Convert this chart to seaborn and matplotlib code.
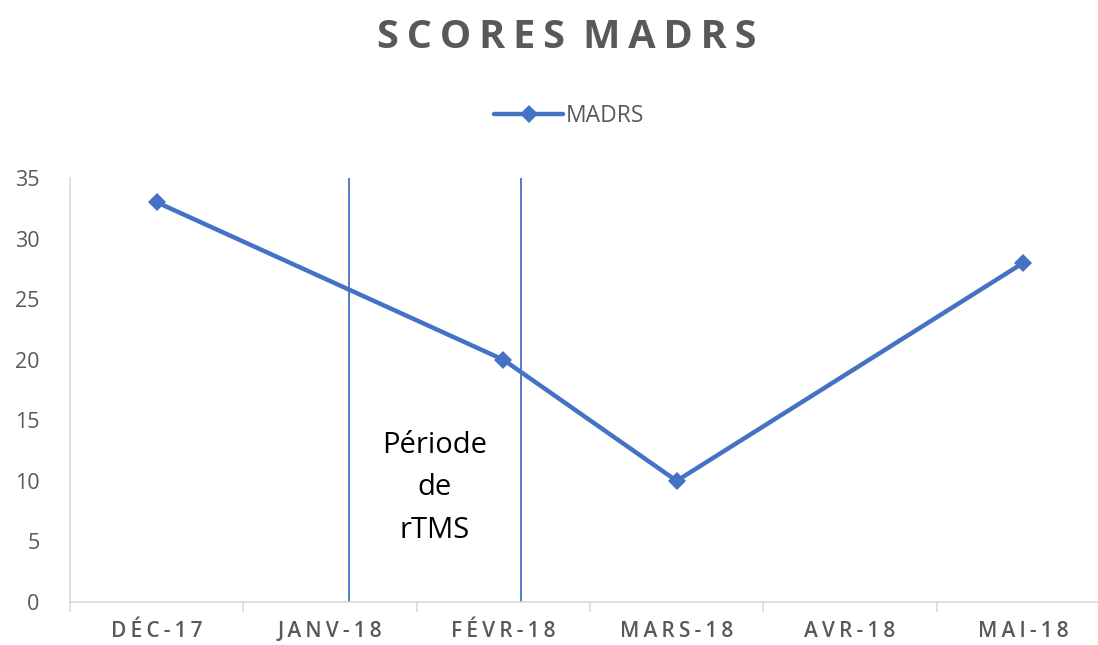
import numpy as np
import pandas as pd
import seaborn as sns
import matplotlib.pyplot as plt
from matplotlib.ticker import FixedLocator

months = ['DÉC-17', 'JANV-18', 'FÉVR-18', 'MARS-18', 'AVR-18', 'MAI-18']
madrs = [33, np.nan, 20, 10, np.nan, 28]
y_ticks = [0, 5, 10, 15, 20, 25, 30, 35]

BLUE = '#4472C4'
GREY = '#595959'
AXIS_GREY = '#D9D9D9'


def spaced(s, sep='\u2009'):
    # mimic Excel's character spacing, wider gap between words
    return (sep + ' ').join(sep.join(w) for w in s.split(' '))


def main():
    sns.set_style('white')
    plt.rcParams['font.family'] = ['Open Sans', 'DejaVu Sans']

    df = pd.DataFrame({'pos': np.arange(len(months)), 'score': madrs}).dropna()

    fig = plt.figure(figsize=(10.98, 6.45), dpi=100)
    ax = fig.add_axes([70 / 1098, 43 / 645, 1040 / 1098, 424 / 645])

    sns.lineplot(data=df, x='pos', y='score', ax=ax, color=BLUE, linewidth=3.2,
                 marker='D', markersize=9, markeredgewidth=0, label='MADRS')

    # rTMS period markers
    ax.axvline(1.11, color=BLUE, linewidth=1.3)
    ax.axvline(2.10, color=BLUE, linewidth=1.3)
    ax.text(1.605, 14.1, 'Période\nde\nrTMS', ha='center', va='top',
            fontsize=21, color='black', linespacing=1.6)

    ax.set_xlim(-0.5, len(months) - 0.5)
    ax.set_ylim(0, 35)
    ax.set_xticks(range(len(months)))
    ax.set_xticklabels([spaced(m) for m in months], fontweight='semibold')
    ax.xaxis.set_minor_locator(FixedLocator(np.arange(-0.5, len(months), 1)))
    ax.tick_params(axis='x', which='major', length=0, pad=14, labelsize=15,
                   labelcolor=GREY)
    ax.tick_params(axis='x', which='minor', bottom=True, length=7, width=1.2,
                   color=AXIS_GREY, direction='out')
    ax.set_yticks(y_ticks)
    ax.tick_params(axis='y', length=0, pad=22, labelsize=15.5, labelcolor=GREY)
    ax.set_xlabel('')
    ax.set_ylabel('')

    for side in ['top', 'right']:
        ax.spines[side].set_visible(False)
    for side in ['left', 'bottom']:
        ax.spines[side].set_color(AXIS_GREY)
        ax.spines[side].set_linewidth(1.2)

    ax.get_legend().remove()
    handles, labels = ax.get_legend_handles_labels()
    fig.legend(handles, labels, loc='center', bbox_to_anchor=(569 / 1098, 1 - 116 / 645),
               frameon=False, fontsize=16.5, handlelength=3.0, labelcolor=GREY,
               handletextpad=0.1)

    fig.suptitle(spaced('SCORES MADRS'), x=567 / 1098, y=1 - 37 / 645, va='center',
                 fontsize=28.5, fontweight='bold', color=GREY)

    fig.savefig('out.png', dpi=100)
    plt.close(fig)


if __name__ == '__main__':
    main()
